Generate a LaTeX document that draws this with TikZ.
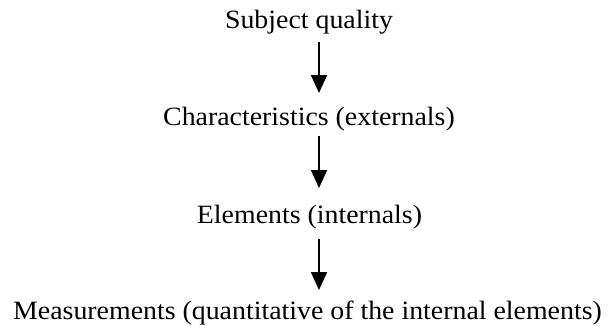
\documentclass[tikz,border=0pt]{standalone}
\usepackage{fontspec}
\setmainfont[FakeStretch=1.055]{Liberation Serif}
\usetikzlibrary{arrows.meta}
\tikzset{
  lbl/.style={inner sep=0pt, anchor=base, font=\fontsize{26.5}{30}\selectfont},
  arr/.style={line width=1.8bp, -{Triangle[width=16bp,length=18bp]}}
}
\begin{document}
\begin{tikzpicture}[x=1bp,y=-1bp]
\useasboundingbox (0,0) rectangle (609,325);
\node[lbl] (n1) at (309,28) {Subject quality};
\node[lbl] (n2) at (309,125) {Characteristics (externals)};
\node[lbl] (n3) at (309.5,223) {Elements (internals)};
\node[lbl] (n4) at (307.5,319) {Measurements (quantitative of the internal elements)};
\coordinate (a1s) at (319,42); \coordinate (a1e) at (319,93);
\coordinate (a2s) at (319,136); \coordinate (a2e) at (319,188);
\coordinate (a3s) at (319,239); \coordinate (a3e) at (319,290);
\draw[arr] (a1s) -- (a1e);
\draw[arr] (a2s) -- (a2e);
\draw[arr] (a3s) -- (a3e);
\end{tikzpicture}
\end{document}
